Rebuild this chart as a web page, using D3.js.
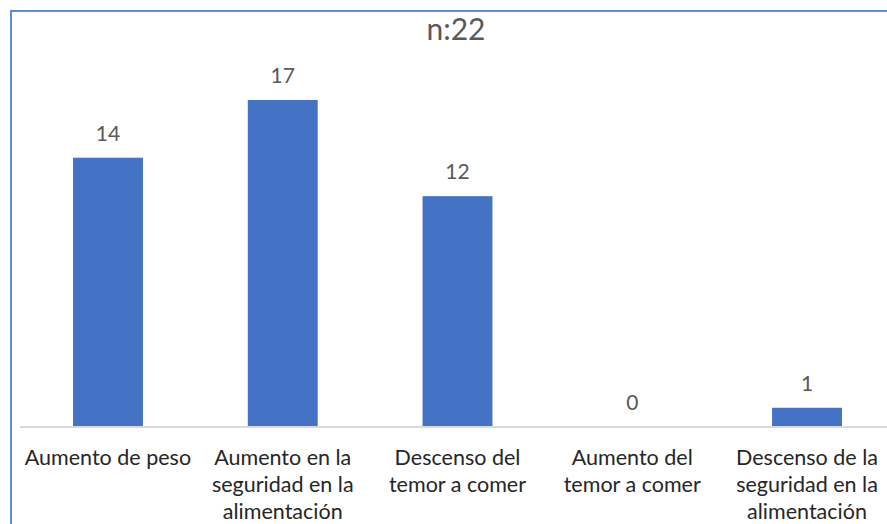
<!DOCTYPE html>
<html>
<head>
<meta charset="utf-8">
<script src="https://cdn.jsdelivr.net/npm/d3@7"></script>
<style>
  html, body { margin: 0; padding: 0; background: #fff; }
  svg { display: block; }
  text { font-family: Lato, "Open Sans", sans-serif; }
</style>
</head>
<body>
<svg id="chart" width="887" height="524"></svg>
<script>
// Categories and counts (n = 22)
const categories = [
  "Aumento de peso",
  "Aumento en la seguridad en la alimentación",
  "Descenso del temor a comer",
  "Aumento del temor a comer",
  "Descenso de la seguridad en la alimentación"
];
const values = [14, 17, 12, 0, 1];
const subtitle = "n:22";

const W = 887, H = 524;
const svg = d3.select("#chart");

// Chart frame (left and top edges are within the view)
svg.append("path")
  .attr("d", `M11,${H + 5} V11 H${W + 5}`)
  .attr("fill", "none")
  .attr("stroke", "#5A8EE6")
  .attr("stroke-width", 2);

const x = d3.scaleBand()
  .domain(categories)
  .range([20.6, 894.4])
  .paddingInner(0.6)
  .paddingOuter(0.3);

const baseY = 427;
const y = d3.scaleLinear()
  .domain([0, 17])
  .range([baseY, 100]);

// Subtitle
svg.append("text")
  .attr("x", 456)
  .attr("y", 40)
  .attr("text-anchor", "middle")
  .attr("fill", "#595959")
  .attr("font-size", 30)
  .text(subtitle);

// Bars
svg.append("g").selectAll("rect")
  .data(values)
  .join("rect")
  .attr("x", (d, i) => x(categories[i]))
  .attr("width", x.bandwidth())
  .attr("y", d => y(d))
  .attr("height", d => baseY - y(d))
  .attr("fill", "#4472C4");

// Category axis
const axis = d3.axisBottom(x).tickSize(0).tickFormat("");
const axisG = svg.append("g")
  .attr("transform", `translate(0,${baseY})`)
  .call(axis);
axisG.select(".domain")
  .attr("stroke", "#D9D9D9")
  .attr("stroke-width", 2)
  .attr("d", `M20,0 H${W + 5}`);

// Value labels
svg.append("g").selectAll("text")
  .data(values)
  .join("text")
  .attr("x", (d, i) => x(categories[i]) + x.bandwidth() / 2)
  .attr("y", d => y(d) - 17)
  .attr("text-anchor", "middle")
  .attr("fill", "#595959")
  .attr("font-size", 21)
  .text(d => d);

// Wrapped category labels
const labelSize = 21.5, lineH = 27, maxW = 172;
const measure = svg.append("text").attr("font-size", labelSize).attr("visibility", "hidden");
function wrap(str) {
  const words = str.split(" ");
  const lines = [];
  let cur = "";
  words.forEach(w => {
    const trial = cur ? cur + " " + w : w;
    measure.text(trial);
    if (cur && measure.node().getComputedTextLength() > maxW) {
      lines.push(cur);
      cur = w;
    } else {
      cur = trial;
    }
  });
  if (cur) lines.push(cur);
  return lines;
}
const labels = svg.append("g").selectAll("text")
  .data(categories)
  .join("text")
  .attr("x", d => x(d) + x.bandwidth() / 2)
  .attr("y", 465)
  .attr("text-anchor", "middle")
  .attr("fill", "#262626")
  .attr("font-size", labelSize);
labels.each(function(d) {
  const t = d3.select(this);
  wrap(d).forEach((line, k) => {
    t.append("tspan")
      .attr("x", x(d) + x.bandwidth() / 2)
      .attr("dy", k === 0 ? 0 : lineH)
      .text(line);
  });
});
measure.remove();
</script>
</body>
</html>
